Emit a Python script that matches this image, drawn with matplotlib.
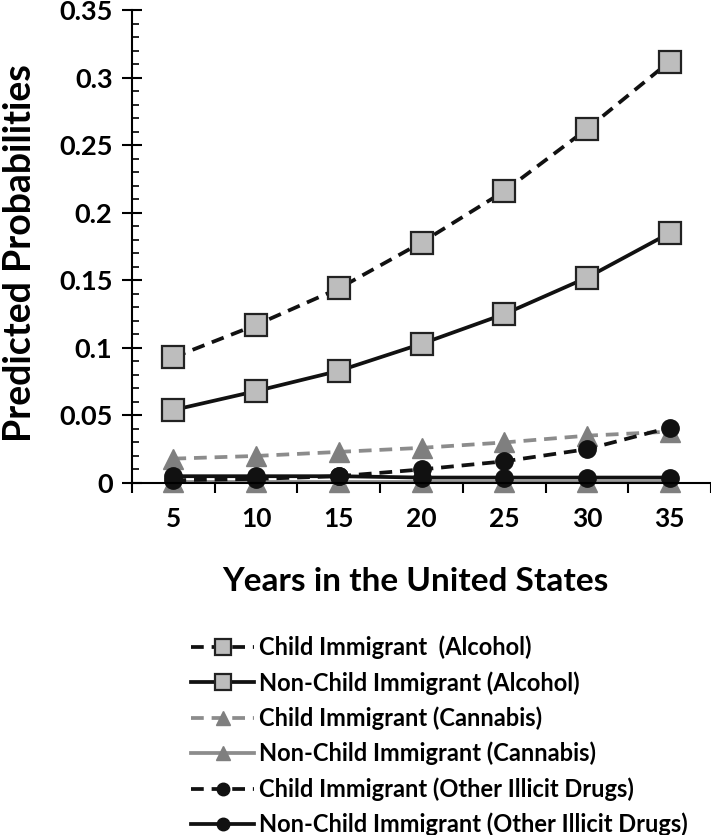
import numpy as np
import matplotlib.pyplot as plt
from matplotlib.ticker import MultipleLocator, FuncFormatter, FixedLocator

plt.rcParams['font.family'] = ['Lato', 'DejaVu Sans']
plt.rcParams['font.weight'] = 'bold'

# Data
years = [5, 10, 15, 20, 25, 30, 35]
child_alcohol = [0.093, 0.117, 0.144, 0.178, 0.216, 0.262, 0.312]
nonchild_alcohol = [0.054, 0.068, 0.083, 0.103, 0.125, 0.152, 0.185]
child_cannabis = [0.018, 0.020, 0.023, 0.026, 0.030, 0.035, 0.038]
nonchild_cannabis = [0.001, 0.001, 0.001, 0.001, 0.001, 0.001, 0.001]
child_other = [0.002, 0.003, 0.005, 0.010, 0.016, 0.025, 0.041]
nonchild_other = [0.005, 0.005, 0.005, 0.004, 0.004, 0.004, 0.004]

labels = ["Child Immigrant  (Alcohol)",
          "Non-Child Immigrant (Alcohol)",
          "Child Immigrant (Cannabis)",
          "Non-Child Immigrant (Cannabis)",
          "Child Immigrant (Other Illicit Drugs)",
          "Non-Child Immigrant (Other Illicit Drugs)"]

DASH = (0, (3.4, 2.1))
series = [
    (child_alcohol, dict(color='#111111', ls=DASH, marker='s', ms=15.5, mfc='#bdbdbd', mec='#222222', mew=1.6)),
    (nonchild_alcohol, dict(color='#111111', ls='-', marker='s', ms=15.5, mfc='#bdbdbd', mec='#222222', mew=1.6)),
    (child_cannabis, dict(color='#8c8c8c', ls=DASH, marker='^', ms=14, mfc='#7f7f7f', mec='#7f7f7f', mew=1)),
    (nonchild_cannabis, dict(color='#8c8c8c', ls='-', marker='^', ms=14, mfc='#7f7f7f', mec='#7f7f7f', mew=1)),
    (child_other, dict(color='#111111', ls=DASH, marker='o', ms=12.5, mfc='#111111', mec='#111111', mew=1)),
    (nonchild_other, dict(color='#111111', ls='-', marker='o', ms=12.5, mfc='#111111', mec='#111111', mew=1)),
]

fig = plt.figure(figsize=(7.11, 8.35), dpi=100)
ax = fig.add_axes([0.1857, 0.4216, 0.8143, 0.5662])

x = np.arange(len(years))
for (vals, st), lab in zip(series, labels):
    ax.plot(x, vals, lw=2.7, label=lab, clip_on=False, **st)

ax.set_xlim(-0.5, len(years) - 0.5)
ax.set_ylim(0, 0.35)

# category axis: ticks between categories, labels at centres
ax.xaxis.set_major_locator(FixedLocator(np.arange(-0.5, len(years), 1.0)))
ax.xaxis.set_major_formatter(FuncFormatter(lambda v, p: ''))
ax.set_xticks(x, minor=True)
ax.set_xticklabels([str(y) for y in years], minor=True)
ax.tick_params(axis='x', which='major', direction='out', length=7, width=1.5)
ax.tick_params(axis='x', which='minor', length=0, pad=17, labelsize=19)

ax.yaxis.set_major_locator(MultipleLocator(0.05))
ax.yaxis.set_minor_locator(MultipleLocator(0.01))
ax.yaxis.set_major_formatter(FuncFormatter(lambda v, p: '%g' % round(v, 2)))
ax.tick_params(axis='y', which='major', direction='inout', length=14, width=1.5, labelsize=19.5, pad=7)
ax.tick_params(axis='y', which='minor', direction='in', length=5, width=1.2)

for s in ['top', 'right']:
    ax.spines[s].set_visible(False)
for s in ['left', 'bottom']:
    ax.spines[s].set_linewidth(1.5)

ax.set_ylabel('Predicted Probabilities', fontsize=27, fontweight='bold', va='center')
ax.yaxis.set_label_coords(-0.193, 0.487)
ax.set_xlabel('Years in the United States', fontsize=24, fontweight='bold', va='center')
ax.xaxis.set_label_coords(0.489, -0.209)

leg_handles = []
for (vals, st), lab in zip(series, labels):
    s2 = dict(st)
    s2['ms'] = st['ms'] * 0.72
    h, = ax.plot([], [], lw=2.7, label=lab, **s2)
    leg_handles.append(h)
fig.legend(handles=leg_handles, loc='upper left', bbox_to_anchor=(0.255, 0.250),
           frameon=False, fontsize=17, handlelength=2.7, handletextpad=0.2,
           labelspacing=0.5, borderaxespad=0)

fig.savefig('out.png', dpi=100)
